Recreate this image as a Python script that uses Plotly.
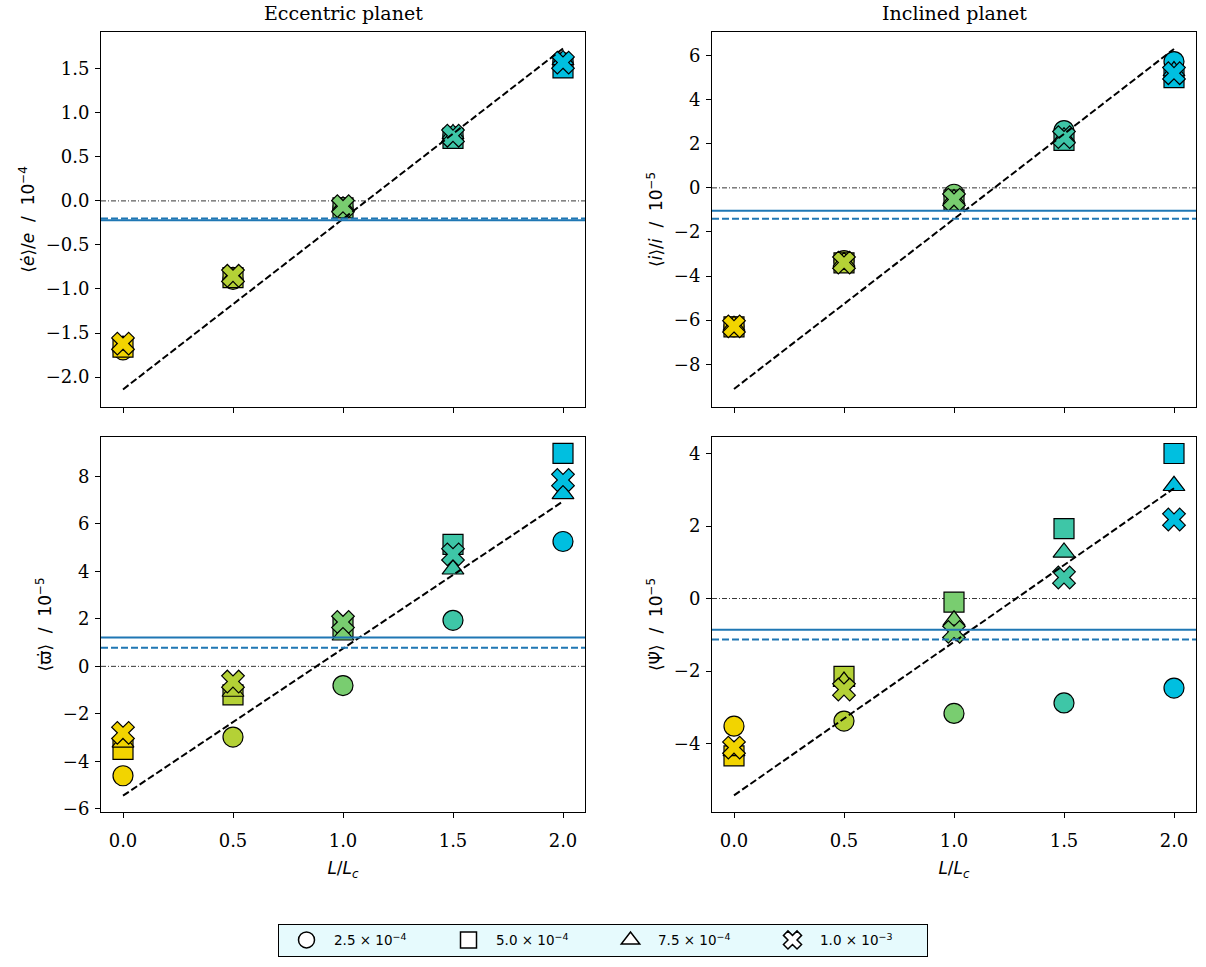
import plotly.graph_objects as go

# ---------------- data ----------------
L_over_Lc = [0.0, 0.5, 1.0, 1.5, 2.0]
x_tick_labels = ["0.0", "0.5", "1.0", "1.5", "2.0"]
point_colors = ["#f2d400", "#b4d136", "#79cd70", "#3ec6a7", "#00bfe0"]

legend_labels = ["2.5 × 10<sup>−4</sup>", "5.0 × 10<sup>−4</sup>",
                 "7.5 × 10<sup>−4</sup>", "1.0 × 10<sup>−3</sup>"]
symbols = ["circle", "square", "triangle-up", "x"]

# Eccentric planet: <de/dt>/e / 1e-4
edot_25 = [-1.69, -0.89, -0.08, 0.73, 1.57]
edot_50 = [-1.66, -0.87, -0.08, 0.71, 1.51]
edot_75 = [-1.64, -0.86, -0.06, 0.76, 1.60]
edot_100 = [-1.62, -0.85, -0.06, 0.74, 1.57]
edot_fit = [-2.14, 1.73]
edot_ref = [-0.22, -0.20]  # solid, dashed
edot_ticks = [-2.0, -1.5, -1.0, -0.5, 0.0, 0.5, 1.0, 1.5]
edot_tick_labels = ["−2.0", "−1.5", "−1.0", "−0.5", "0.0", "0.5", "1.0", "1.5"]

# Inclined planet: <di/dt>/i / 1e-5
idot_25 = [-6.30, -3.30, -0.29, 2.60, 5.73]
idot_50 = [-6.30, -3.40, -0.55, 2.15, 5.00]
idot_75 = [-6.25, -3.35, -0.50, 2.30, 5.30]
idot_100 = [-6.28, -3.39, -0.53, 2.30, 5.20]
idot_fit = [-9.12, 6.30]
idot_ref = [-1.04, -1.40]
idot_ticks = [-8, -6, -4, -2, 0, 2, 4, 6]
idot_tick_labels = ["−8", "−6", "−4", "−2", "0", "2", "4", "6"]

# Eccentric planet: <d varpi/dt> / 1e-5
varpi_25 = [-4.61, -2.98, -0.81, 1.94, 5.26]
varpi_50 = [-3.50, -1.20, 1.66, 5.14, 8.97]
varpi_75 = [-3.20, -1.06, 1.31, 4.09, 7.27]
varpi_100 = [-2.80, -0.64, 1.87, 4.72, 7.85]
varpi_fit = [-5.45, 6.95]
varpi_ref = [1.21, 0.78]
varpi_ticks = [-6, -4, -2, 0, 2, 4, 6, 8]
varpi_tick_labels = ["−6", "−4", "−2", "0", "2", "4", "6", "8"]

# Inclined planet: <d Psi/dt> / 1e-5
psi_25 = [-3.52, -3.38, -3.17, -2.88, -2.47]
psi_50 = [-4.34, -2.15, -0.10, 1.93, 4.00]
psi_75 = [-4.20, -2.29, -0.60, 1.27, 3.11]
psi_100 = [-4.11, -2.51, -0.92, 0.58, 2.18]
psi_fit = [-5.43, 3.04]
psi_ref = [-0.86, -1.13]
psi_ticks = [-4, -2, 0, 2, 4]
psi_tick_labels = ["−4", "−2", "0", "2", "4"]

fit_x = [0.0, 2.0]

panels = [
    dict(series=[edot_25, edot_50, edot_75, edot_100], fit=edot_fit, ref=edot_ref,
         xa="x", ya="y", yrange=[-2.34, 1.92], tv=edot_ticks, tt=edot_tick_labels,
         ylabel="⟨<i>ė</i>⟩/<i>e</i>  /  10<sup>−4</sup>", bottom=False),
    dict(series=[idot_25, idot_50, idot_75, idot_100], fit=idot_fit, ref=idot_ref,
         xa="x2", ya="y2", yrange=[-9.94, 7.08], tv=idot_ticks, tt=idot_tick_labels,
         ylabel="⟨<i>i̇</i>⟩/<i>i</i>  /  10<sup>−5</sup>", bottom=False),
    dict(series=[varpi_25, varpi_50, varpi_75, varpi_100], fit=varpi_fit, ref=varpi_ref,
         xa="x3", ya="y3", yrange=[-6.14, 9.67], tv=varpi_ticks, tt=varpi_tick_labels,
         ylabel="⟨ϖ̇⟩  /  10<sup>−5</sup>", bottom=True),
    dict(series=[psi_25, psi_50, psi_75, psi_100], fit=psi_fit, ref=psi_ref,
         xa="x4", ya="y4", yrange=[-5.89, 4.46], tv=psi_ticks, tt=psi_tick_labels,
         ylabel="⟨Ψ̇⟩  /  10<sup>−5</sup>", bottom=True),
]

W, H = 1206, 967
xdom = [[101 / W, 585 / W], [712 / W, 1196 / W]]
ydom_top = [1 - 410 / H, 1 - 32 / H]
ydom_bot = [1 - 818 / H, 1 - 440 / H]

SERIF = "DejaVu Serif, serif"
SANS = "DejaVu Sans, sans-serif"

fig = go.Figure()
shapes = []

for p in panels:
    xa, ya = p["xa"], p["ya"]
    shapes.append(dict(type="line", xref=f"{xa} domain", yref=ya, x0=0, x1=1,
                       y0=0, y1=0, line=dict(color="black", width=0.8, dash="5px,2px,1px,2px"),
                       layer="below"))
    shapes.append(dict(type="line", xref=f"{xa} domain", yref=ya, x0=0, x1=1,
                       y0=p["ref"][0], y1=p["ref"][0], line=dict(color="#1f77b4", width=2),
                       layer="above"))
    shapes.append(dict(type="line", xref=f"{xa} domain", yref=ya, x0=0, x1=1,
                       y0=p["ref"][1], y1=p["ref"][1],
                       line=dict(color="#1f77b4", width=2, dash="7px,3px"), layer="above"))
    for vals, sym in zip(p["series"], symbols):
        fig.add_trace(go.Scatter(
            x=L_over_Lc, y=vals, mode="markers", xaxis=xa, yaxis=ya, showlegend=False,
            marker=dict(symbol=sym, size=20 if sym != "triangle-up" else 19,
                        color=point_colors, line=dict(color="black", width=1.2)),
            hoverinfo="skip"))
    fig.add_trace(go.Scatter(
        x=fit_x, y=p["fit"], mode="lines", xaxis=xa, yaxis=ya, showlegend=False,
        line=dict(color="black", width=2, dash="7px,3px"), hoverinfo="skip"))

# legend entries
for lab, sym in zip(legend_labels, symbols):
    fig.add_trace(go.Scatter(
        x=[None], y=[None], mode="markers", name=lab, showlegend=True,
        marker=dict(symbol=sym, size=16, color="white", line=dict(color="black", width=1.5))))

axis_common = dict(showline=True, linecolor="black", linewidth=1, mirror=True,
                   ticks="outside", ticklen=5, tickwidth=1, tickcolor="black",
                   showgrid=False, zeroline=False,
                   tickfont=dict(family=SERIF, size=18, color="black"))

layout_axes = {}
names = [("xaxis", "yaxis"), ("xaxis2", "yaxis2"), ("xaxis3", "yaxis3"), ("xaxis4", "yaxis4")]
for i, (p, (xn, yn)) in enumerate(zip(panels, names)):
    col = i % 2
    row = i // 2
    xax = dict(axis_common, domain=xdom[col], range=[-0.1, 2.1],
               tickmode="array", tickvals=L_over_Lc, ticktext=x_tick_labels,
               anchor=p["ya"], showticklabels=p["bottom"], ticklabelstandoff=7)
    if p["bottom"]:
        xax["title"] = dict(text="<i>L</i>/<i>L<sub>c</sub></i>",
                            font=dict(family=SANS, size=17, color="black"),
                            standoff=12)
    yax = dict(axis_common, domain=ydom_top if row == 0 else ydom_bot,
               range=p["yrange"], tickmode="array", tickvals=p["tv"], ticktext=p["tt"],
               anchor=p["xa"], ticklabelstandoff=2,
               title=dict(text=p["ylabel"],
                          font=dict(family=SANS, size=17, color="black"),
                          standoff=6))
    layout_axes[xn] = xax
    layout_axes[yn] = yax

fig.update_layout(
    width=W, height=H,
    margin=dict(l=0, r=0, t=0, b=0),
    paper_bgcolor="white", plot_bgcolor="white",
    shapes=shapes,
    showlegend=True,
    legend=dict(orientation="h", x=0.5, xanchor="center", y=1 - 947 / H, yanchor="middle",
                bgcolor="#e6fafd", bordercolor="black", borderwidth=1,
                font=dict(family=SANS, size=13.5, color="black"),
                itemwidth=45, entrywidth=102, itemsizing="trace"),
    annotations=[
        dict(text="Eccentric planet", x=(xdom[0][0] + xdom[0][1]) / 2, y=1 - 13 / H,
             xref="paper", yref="paper", showarrow=False, xanchor="center", yanchor="middle",
             font=dict(family=SERIF, size=19, color="black")),
        dict(text="Inclined planet", x=(xdom[1][0] + xdom[1][1]) / 2, y=1 - 13 / H,
             xref="paper", yref="paper", showarrow=False, xanchor="center", yanchor="middle",
             font=dict(family=SERIF, size=19, color="black")),
    ],
    **layout_axes,
)

fig.write_html("out.html")
